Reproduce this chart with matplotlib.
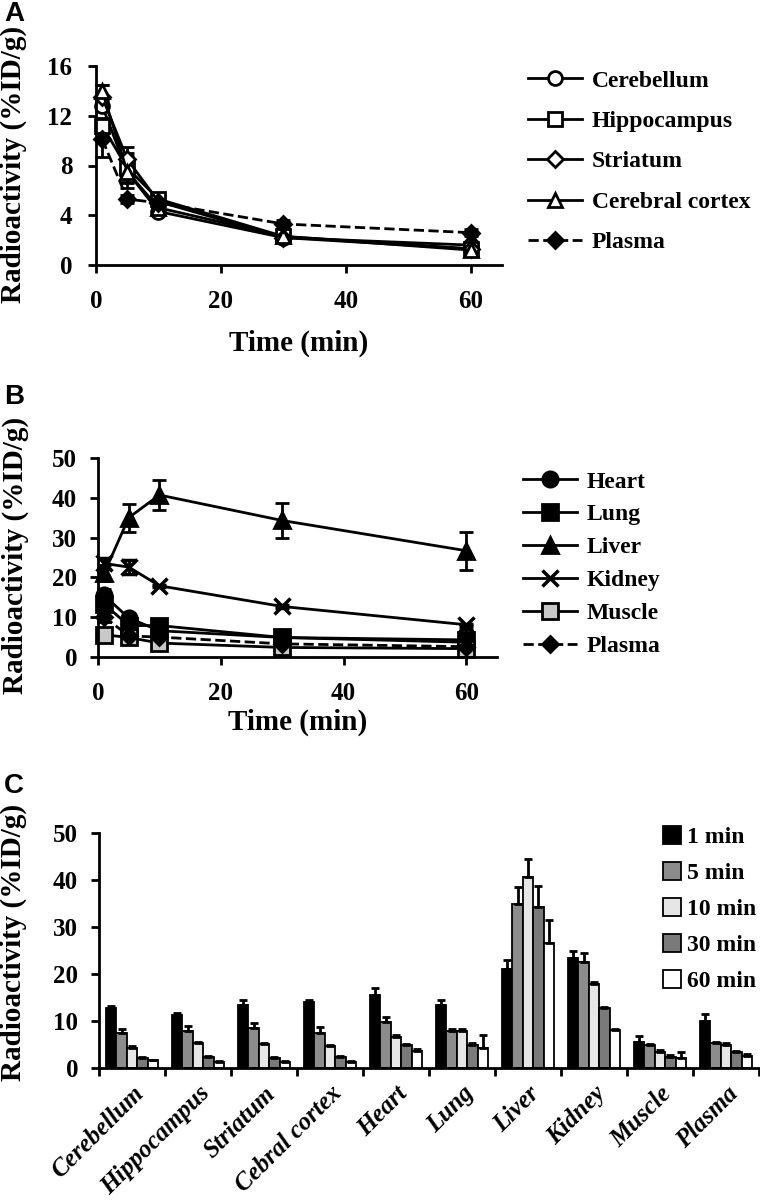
import matplotlib
matplotlib.use("Agg")
import matplotlib.pyplot as plt
from matplotlib.lines import Line2D
import numpy as np

plt.rcParams['font.family'] = ['Liberation Serif', 'DejaVu Serif']
plt.rcParams['font.weight'] = 'bold'
plt.rcParams['axes.labelweight'] = 'bold'

times = [1, 5, 10, 30, 60]
time_labels = ['1 min', '5 min', '10 min', '30 min', '60 min']

cerebellum = [12.8, 7.5, 4.3, 2.2, 1.6]
cerebellum_err = [0.4, 0.8, 0.3, 0.2, 0.2]
hippocampus = [11.2, 7.8, 5.3, 2.3, 1.3]
hippocampus_err = [0.6, 1.2, 0.3, 0.2, 0.2]
striatum = [13.5, 8.5, 5.1, 2.2, 1.3]
striatum_err = [1.0, 1.0, 0.3, 0.2, 0.2]
cortex = [14.0, 7.5, 4.6, 2.3, 1.2]
cortex_err = [0.5, 1.3, 0.3, 0.2, 0.2]
heart = [15.5, 9.8, 6.6, 4.9, 3.7]
heart_err = [1.5, 1.0, 0.4, 0.3, 0.3]
lung = [13.3, 7.9, 7.9, 4.9, 4.3]
lung_err = [1.2, 0.3, 0.3, 0.5, 2.7]
liver = [21.0, 35.0, 40.7, 34.3, 26.7]
liver_err = [2.0, 3.5, 3.8, 4.4, 4.8]
kidney = [23.5, 22.6, 17.9, 12.7, 8.1]
kidney_err = [1.4, 1.8, 0.3, 0.3, 0.3]
muscle = [5.6, 4.9, 3.5, 2.4, 2.1]
muscle_err = [1.2, 0.3, 0.3, 0.3, 1.3]
plasma = [10.1, 5.3, 5.0, 3.3, 2.6]
plasma_err = [1.4, 0.3, 0.3, 0.3, 0.3]

organs = ['Cerebellum', 'Hippocampus', 'Striatum', 'Cebral cortex', 'Heart',
          'Lung', 'Liver', 'Kidney', 'Muscle', 'Plasma']
organ_vals = [cerebellum, hippocampus, striatum, cortex, heart,
              lung, liver, kidney, muscle, plasma]
organ_errs = [cerebellum_err, hippocampus_err, striatum_err, cortex_err, heart_err,
              lung_err, liver_err, kidney_err, muscle_err, plasma_err]

W, H = 760, 1201
fig = plt.figure(figsize=(W / 100, H / 100), dpi=100)

def axrect(x0, x1, ytop, ybot):
    return [x0 / W, 1 - ybot / H, (x1 - x0) / W, (ybot - ytop) / H]

def style(ax, ypad=9):
    for s in ['top', 'right']:
        ax.spines[s].set_visible(False)
    for s in ['left', 'bottom']:
        ax.spines[s].set_linewidth(2)
    ax.tick_params(direction='out', width=2, length=6, labelsize=18)
    ax.tick_params(axis='y', pad=ypad)
    ax.tick_params(axis='x', pad=12)

def put_ylabel(ax, right_px, ymid_px):
    ax.set_ylabel('Radioactivity (%ID/g)', fontsize=21)
    ax.yaxis.set_label_coords(right_px / W, 1 - ymid_px / H, transform=fig.transFigure)

fs = 17

def line_series(ax, series, big):
    handles = []
    for name, v, e, m, fc, ls in series:
        ms = 8 if m == 'D' else big
        mew = 2.5 if m == 'x' else 2
        ax.errorbar(times, v, yerr=e, color='black', marker=m, mfc=fc, mec='black',
                    mew=mew, ms=ms, ls=ls, lw=2, capsize=5, elinewidth=2,
                    clip_on=False)
        handles.append(Line2D([], [], color='black', marker=m, mfc=fc, mec='black',
                              mew=mew, ms=ms, ls=ls, lw=2, label=name))
    return handles

# Panel A
axA = fig.add_axes(axrect(96, 502, 66, 265))
style(axA, ypad=11)
brain = [
    ('Cerebellum', cerebellum, cerebellum_err, 'o', 'white', '-'),
    ('Hippocampus', hippocampus, hippocampus_err, 's', 'white', '-'),
    ('Striatum', striatum, striatum_err, 'D', 'white', '-'),
    ('Cerebral cortex', cortex, cortex_err, '^', 'white', '-'),
    ('Plasma', plasma, plasma_err, 'D', 'black', '--'),
]
hA = line_series(axA, brain, 10)
axA.set_xlim(0, 65)
axA.set_ylim(0, 16)
axA.set_xticks([0, 20, 40, 60])
axA.set_yticks([0, 4, 8, 12, 16])
axA.set_xlabel('Time (min)', fontsize=21, labelpad=12)
put_ylabel(axA, 27, 164)
axA.legend(handles=hA, loc='upper left', bbox_to_anchor=(528 / W, 1 - 70 / H),
           bbox_transform=fig.transFigure, frameon=False, fontsize=fs,
           handlelength=2.3, handletextpad=0.4, labelspacing=0.8,
           borderpad=0, borderaxespad=0)

# Panel B
axB = fig.add_axes(axrect(98, 497, 458, 657))
style(axB)
body = [
    ('Heart', heart, heart_err, 'o', 'black', '-'),
    ('Lung', lung, lung_err, 's', 'black', '-'),
    ('Liver', liver, liver_err, '^', 'black', '-'),
    ('Kidney', kidney, kidney_err, 'x', 'black', '-'),
    ('Muscle', muscle, muscle_err, 's', '#c8c8c8', '-'),
    ('Plasma', plasma, plasma_err, 'D', 'black', '--'),
]
hB = line_series(axB, body, 11)
axB.set_xlim(0, 65)
axB.set_ylim(0, 50)
axB.set_xticks([0, 20, 40, 60])
axB.set_yticks([0, 10, 20, 30, 40, 50])
axB.set_xlabel('Time (min)', fontsize=21, labelpad=3)
put_ylabel(axB, 29, 555)
axB.legend(handles=hB, loc='upper left', bbox_to_anchor=(523 / W, 1 - 471 / H),
           bbox_transform=fig.transFigure, frameon=False, fontsize=fs,
           handlelength=2.3, handletextpad=0.4, labelspacing=0.48,
           borderpad=0, borderaxespad=0)

# Panel C
axC = fig.add_axes(axrect(99, 759, 833, 1068))
style(axC)
fills = ['black', '#8c8c8c', '#e6e6e6', '#7a7a7a', 'white']
bw = 0.158
x = np.arange(len(organs))
for j in range(len(times)):
    vals = [ov[j] for ov in organ_vals]
    errs = [oe[j] for oe in organ_errs]
    axC.bar(x + (j - 2) * bw, vals, width=bw, color=fills[j], edgecolor='black',
            linewidth=1.3, label=time_labels[j],
            yerr=[np.zeros(len(errs)), errs], capsize=3,
            error_kw=dict(elinewidth=2, capthick=2, ecolor='black'))
axC.set_xlim(-0.5, len(organs) - 0.5)
axC.set_ylim(0, 50)
axC.set_yticks([0, 10, 20, 30, 40, 50])
axC.set_xticks(np.arange(len(organs) + 1) - 0.5)
axC.set_xticklabels([])
axC.set_xticks(x, minor=True)
axC.set_xticklabels(organs, minor=True, rotation=45, ha='right',
                    rotation_mode='anchor', fontstyle='italic', fontsize=18)
axC.tick_params(axis='x', which='minor', length=0, pad=10)
put_ylabel(axC, 27, 942)
axC.legend(loc='upper left', bbox_to_anchor=(663 / W, 1 - 826 / H),
           bbox_transform=fig.transFigure, frameon=False, fontsize=fs,
           handlelength=0.75, handleheight=0.8, handletextpad=0.25,
           labelspacing=0.58, borderpad=0, borderaxespad=0)

for lab, yp in [('A', 14), ('B', 397), ('C', 786)]:
    fig.text(4 / W, 1 - yp / H, lab, fontsize=20, fontweight='bold',
             family='Liberation Sans', va='center', ha='left')

fig.savefig('out.png', dpi=100)
